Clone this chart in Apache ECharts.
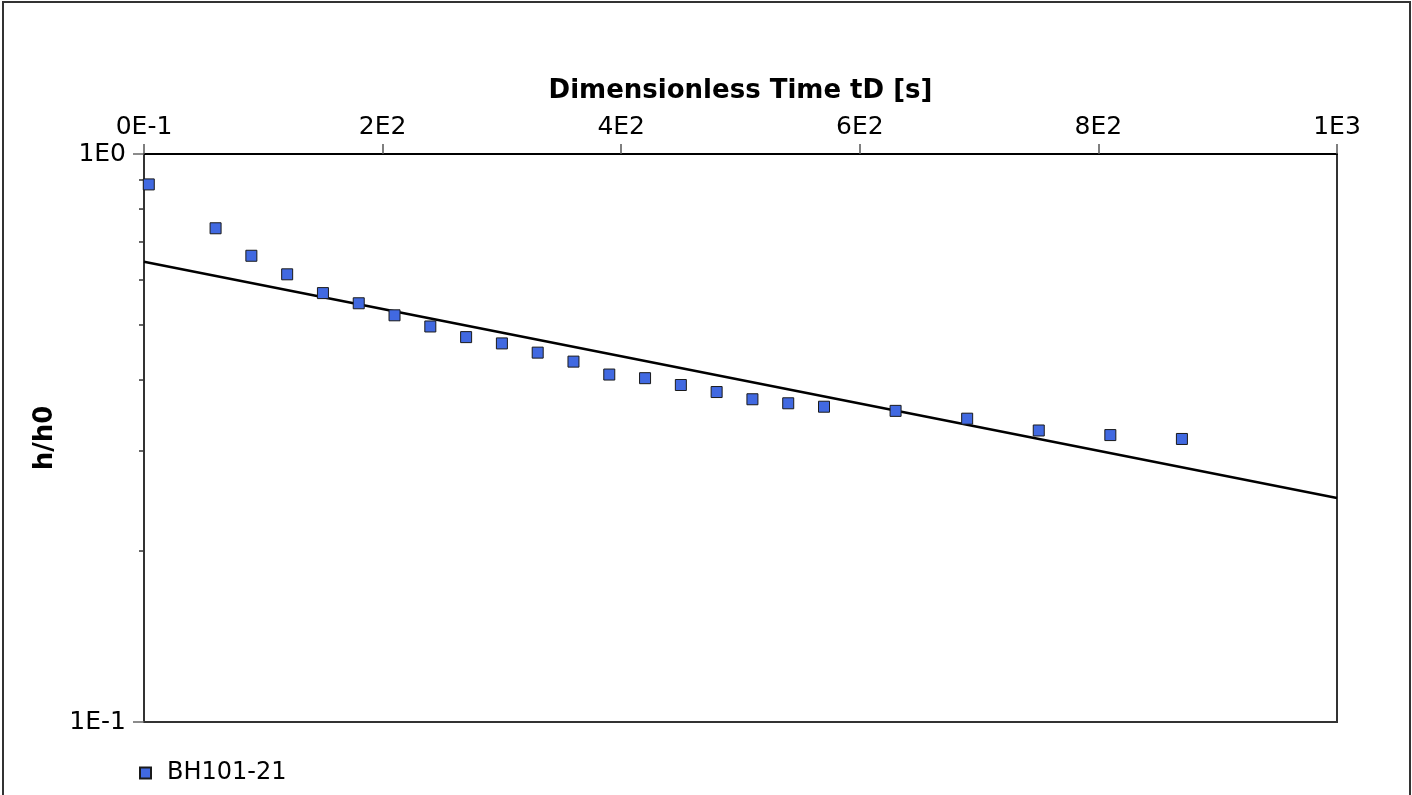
<!DOCTYPE html>
<html>
<head>
<meta charset="utf-8">
<script src="https://cdn.jsdelivr.net/npm/echarts@6/dist/echarts.min.js"></script>
<style>
  html, body { margin: 0; padding: 0; background: #fff; }
  #main { width: 1412px; height: 795px; }
  #frame { position: absolute; left: 2px; top: 1px; width: 1405px; height: 820px;
           border-top: 2px solid #333; border-left: 2px solid #333; border-right: 2px solid #333;
           pointer-events: none; }
</style>
</head>
<body>
<div id="main"></div>
<div id="frame"></div>
<script>
// measured values
var tD = [4, 60, 90, 120, 150, 180, 210, 240, 270, 300, 330, 360, 390, 420, 450, 480, 510, 540, 570, 630, 690, 750, 810, 870];
var hh0 = [0.884, 0.740, 0.662, 0.614, 0.569, 0.546, 0.520, 0.497, 0.476, 0.464, 0.447, 0.431, 0.409, 0.403, 0.392, 0.381, 0.370, 0.364, 0.359, 0.353, 0.342, 0.326, 0.320, 0.315];
// straight fit line (end points)
var fitX = [0, 1000];
var fitY = [0.646, 0.248];
var xTickLabels = ['0E-1', '2E2', '4E2', '6E2', '8E2', '1E3'];
var yMinorTicks = [0.2, 0.3, 0.4, 0.5, 0.6, 0.7, 0.8, 0.9];

var font = 'DejaVu Sans, Verdana, sans-serif';

var points = tD.map(function (x, i) { return [x, hh0[i]]; });
var fit = fitX.map(function (x, i) { return [x, fitY[i]]; });

var chart = echarts.init(document.getElementById('main'));
var option = {
    animation: false,
    backgroundColor: '#fff',
    textStyle: { fontFamily: font },
    grid: {
        left: 144, right: 75, top: 154, bottom: 73,
        show: true, borderColor: '#333', borderWidth: 2
    },
    legend: {
        data: ['BH101-21'],
        left: 134, top: 756,
        icon: 'rect', itemWidth: 11, itemHeight: 11, itemGap: 10,
        formatter: function (name) { return '{a|' + name + '}'; },
        textStyle: {
            fontFamily: font, fontSize: 24, color: '#000',
            rich: { a: { fontFamily: font, fontSize: 24, color: '#000', padding: [0, 0, 0, 11] } }
        }
    },
    xAxis: {
        type: 'value',
        position: 'top',
        min: 0, max: 1000, interval: 200,
        name: 'Dimensionless Time tD [s]',
        nameLocation: 'middle',
        nameGap: 50,
        nameTextStyle: { fontFamily: font, fontSize: 26, fontWeight: 'bold', color: '#000' },
        axisLine: { lineStyle: { color: '#000', width: 2 } },
        axisTick: { show: true, inside: false, length: 10, lineStyle: { color: '#555', width: 1.5 } },
        axisLabel: {
            fontFamily: font, fontSize: 25, color: '#000', margin: 14,
            formatter: function (v) { return xTickLabels[Math.round(v / 200)]; }
        },
        splitLine: { show: false }
    },
    yAxis: {
        type: 'log',
        logBase: 10,
        min: 0.1, max: 1,
        name: 'h/h0',
        nameLocation: 'middle',
        nameGap: 86,
        nameTextStyle: { fontFamily: font, fontSize: 26, fontWeight: 'bold', color: '#000' },
        axisLine: { show: true, lineStyle: { color: '#333', width: 2 } },
        axisTick: { show: true, length: 11, lineStyle: { color: '#666', width: 1.5 } },
        axisLabel: {
            fontFamily: font, fontSize: 25, color: '#000', margin: 18,
            formatter: function (v) {
                var e = Math.round(Math.log10(v));
                return '1E' + e;
            }
        },
        splitLine: { show: false }
    },
    series: [
        {
            name: 'minorTicks',
            type: 'custom',
            silent: true,
            clip: false,
            data: yMinorTicks.map(function (v) { return [0, v]; }),
            renderItem: function (params, api) {
                var p = api.coord([0, api.value(1)]);
                return {
                    type: 'line',
                    shape: { x1: p[0] - 5, y1: p[1], x2: p[0], y2: p[1] },
                    style: { stroke: '#333', lineWidth: 1.5 }
                };
            },
            z: 1
        },
        {
            name: 'fit',
            type: 'line',
            data: fit,
            symbol: 'none',
            lineStyle: { color: '#000', width: 2.5 },
            silent: true,
            z: 2
        },
        {
            name: 'BH101-21',
            type: 'scatter',
            data: points,
            symbol: 'rect',
            symbolSize: 11,
            itemStyle: { color: '#4169E1', borderColor: '#1a1a1a', borderWidth: 1, opacity: 1 },
            z: 3
        }
    ]
};
chart.setOption(option);
</script>
</body>
</html>
